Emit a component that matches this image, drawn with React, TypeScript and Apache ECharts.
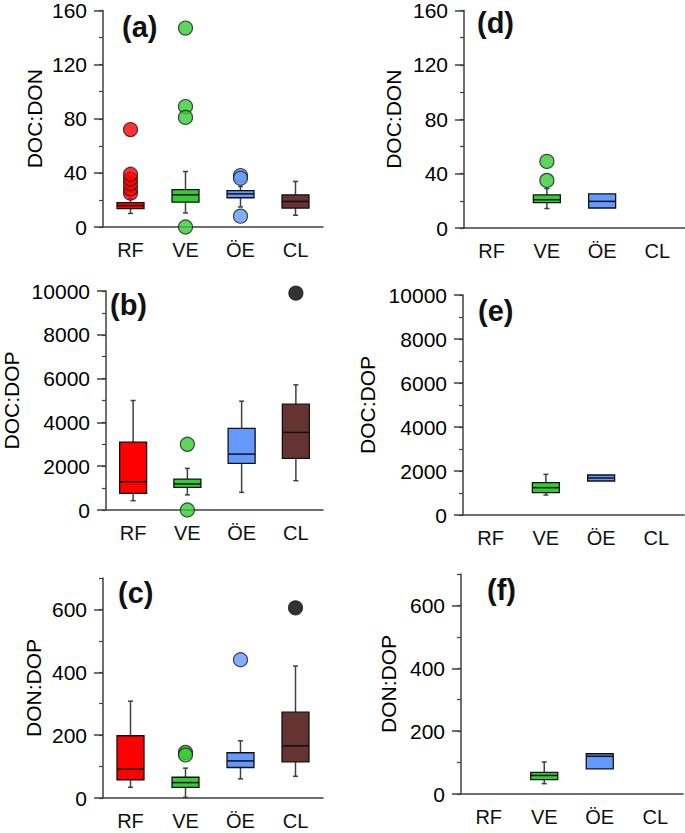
import React, { useEffect, useRef } from "react";
import * as echarts from "echarts";

const categories = ["RF", "VE", "ÖE", "CL"];
const catColors = ["#ff0000", "#33cc33", "#6699ff", "#663333"];

// Box stats: [categoryIndex, min, q1, median, q3, max]
const docDonBoxesAll = [
  [0, 10, 13.6, 15.8, 18, 21],
  [1, 10.4, 18.4, 23.8, 27.6, 41],
  [2, 14.8, 21.6, 24.5, 26.9, 30],
  [3, 8.7, 14, 18.9, 23.8, 33.7],
];
const docDonOutliersAll = [
  [0, 25], [0, 28], [0, 32], [0, 35.5], [0, 39], [0, 72],
  [1, 147], [1, 89], [1, 81], [1, 0],
  [2, 38], [2, 36], [2, 8],
];

const docDopBoxesAll = [
  [0, 425, 760, 1290, 3100, 5000],
  [1, 690, 1035, 1190, 1410, 1900],
  [2, 805, 2130, 2553, 3725, 4970],
  [3, 1337, 2357, 3543, 4833, 5714],
];
const docDopOutliersAll = [
  [1, 3000], [1, 0], [3, 9900],
];

const donDopBoxesAll = [
  [0, 34, 58, 92, 198, 308],
  [1, 2, 34, 49, 66, 95],
  [2, 61, 97, 118, 144, 182],
  [3, 69, 115, 166, 273, 420],
];
const donDopOutliersAll = [
  [1, 145], [1, 137], [2, 440], [3, 605],
];

const docDonBoxesSub = [
  [1, 14.3, 18.6, 20.8, 24.4, 29],
  [2, 14.7, 14.7, 19.6, 25.1, 25.1],
];
const docDonOutliersSub = [[1, 49], [1, 35]];

const docDopBoxesSub = [
  [1, 909, 1015, 1242, 1470, 1848],
  [2, 1545, 1545, 1682, 1818, 1818],
];
const docDopOutliersSub: number[][] = [];

const donDopBoxesSub = [
  [1, 33, 46, 59, 69, 102],
  [2, 80, 80, 120, 128, 128],
];
const donDopOutliersSub: number[][] = [];

const FONT = 'Arial, "Liberation Sans", Helvetica, sans-serif';
const AXIS_COLOR = "#404040";

type Panel = {
  label: string;
  name: string;
  grid: { left: number; top: number; width: number; height: number };
  max: number;
  major: number;
  majorTicks: number[];
  nameGap: number;
  boxes: number[][];
  outliers: number[][];
  labelPos: [number, number];
};

const panels: Panel[] = [
  { label: "(a)", name: "DOC:DON", grid: { left: 103, top: 7, width: 220, height: 220 }, max: 160, major: 40, majorTicks: [0, 40, 80, 120, 160], nameGap: 58, boxes: docDonBoxesAll, outliers: docDonOutliersAll, labelPos: [122, 12] },
  { label: "(b)", name: "DOC:DOP", grid: { left: 103, top: 291, width: 220, height: 219 }, max: 10000, major: 2000, majorTicks: [0, 2000, 4000, 6000, 8000, 10000], nameGap: 84, boxes: docDopBoxesAll, outliers: docDopOutliersAll, labelPos: [110, 290] },
  { label: "(c)", name: "DON:DOP", grid: { left: 103, top: 578, width: 220, height: 220 }, max: 700, major: 200, majorTicks: [0, 200, 400, 600], nameGap: 59, boxes: donDopBoxesAll, outliers: donDopOutliersAll, labelPos: [118, 578] },
  { label: "(d)", name: "DOC:DON", grid: { left: 464, top: 7, width: 221, height: 221 }, max: 160, major: 40, majorTicks: [0, 40, 80, 120, 160], nameGap: 60, boxes: docDonBoxesSub, outliers: docDonOutliersSub, labelPos: [477, 8] },
  { label: "(e)", name: "DOC:DOP", grid: { left: 463, top: 295, width: 221, height: 220 }, max: 10000, major: 2000, majorTicks: [0, 2000, 4000, 6000, 8000, 10000], nameGap: 85, boxes: docDopBoxesSub, outliers: docDopOutliersSub, labelPos: [478, 296] },
  { label: "(f)", name: "DON:DOP", grid: { left: 461, top: 574, width: 222, height: 220 }, max: 700, major: 200, majorTicks: [0, 200, 400, 600], nameGap: 62, boxes: donDopBoxesSub, outliers: donDopOutliersSub, labelPos: [487, 575] },
];

function renderBox(params: any, api: any) {
  const cat = api.value(0);
  const mn = api.value(1);
  const q1 = api.value(2);
  const md = api.value(3);
  const q3 = api.value(4);
  const mx = api.value(5);
  const color = catColors[cat];
  const xc = api.coord([cat, md])[0];
  const y = (v: number) => api.coord([cat, v])[1];
  const hw = 13.5;
  const cap = 2.5;
  const children: any[] = [];
  const lineStyle = { stroke: AXIS_COLOR, lineWidth: 1.5 };
  if (mx > q3) {
    children.push({ type: "line", shape: { x1: xc, y1: y(q3), x2: xc, y2: y(mx) }, style: lineStyle });
    children.push({ type: "line", shape: { x1: xc - cap, y1: y(mx), x2: xc + cap, y2: y(mx) }, style: lineStyle });
  }
  if (mn < q1) {
    children.push({ type: "line", shape: { x1: xc, y1: y(q1), x2: xc, y2: y(mn) }, style: lineStyle });
    children.push({ type: "line", shape: { x1: xc - cap, y1: y(mn), x2: xc + cap, y2: y(mn) }, style: lineStyle });
  }
  children.push({
    type: "rect",
    shape: { x: xc - hw, y: y(q3), width: 2 * hw, height: y(q1) - y(q3) },
    style: { fill: color, stroke: "#111", lineWidth: 1.3 },
  });
  children.push({
    type: "line",
    shape: { x1: xc - hw, y1: y(md), x2: xc + hw, y2: y(md) },
    style: { stroke: "#111", lineWidth: 1.5 },
  });
  return { type: "group", children };
}

export default function App() {
  const ref = useRef<HTMLDivElement>(null);
  useEffect(() => {
    if (!ref.current) return;
    const chart = echarts.init(ref.current, undefined, { renderer: "svg" });
    const grid: any[] = [];
    const xAxis: any[] = [];
    const yAxis: any[] = [];
    const series: any[] = [];
    const graphic: any[] = [];
    panels.forEach((p, i) => {
      grid.push({ ...p.grid, containLabel: false });
      xAxis.push({
        type: "category",
        gridIndex: i,
        data: categories,
        boundaryGap: true,
        axisLine: { lineStyle: { color: AXIS_COLOR, width: 1.5 } },
        axisTick: { alignWithLabel: true, length: 8, lineStyle: { color: AXIS_COLOR, width: 1.5 } },
        axisLabel: { color: "#111", fontSize: 20, fontFamily: FONT, margin: 13 },
        splitLine: { show: false },
      });
      const minor = p.major / 2;
      yAxis.push({
        type: "value",
        gridIndex: i,
        min: 0,
        max: p.max,
        interval: minor,
        name: p.name,
        nameLocation: "middle",
        nameGap: p.nameGap,
        nameTextStyle: { color: "#000", fontSize: 21, fontFamily: FONT },
        axisLine: { show: true, lineStyle: { color: AXIS_COLOR, width: 1.5 } },
        axisTick: { show: true, length: 4, lineStyle: { color: AXIS_COLOR, width: 1.2 } },
        axisLabel: {
          color: "#000",
          fontSize: 21,
          fontFamily: FONT,
          margin: 16,
          formatter: (v: number) => (p.majorTicks.indexOf(v) >= 0 ? String(v) : ""),
        },
        splitLine: { show: false },
      });
      yAxis.push({
        type: "value",
        gridIndex: i,
        min: 0,
        max: p.max,
        interval: p.major,
        position: "left",
        axisLine: { show: false },
        axisTick: { show: true, length: 9, customValues: p.majorTicks, lineStyle: { color: AXIS_COLOR, width: 1.5 } },
        axisLabel: { show: false },
        splitLine: { show: false },
      });
      series.push({
        type: "custom",
        xAxisIndex: i,
        yAxisIndex: 2 * i,
        renderItem: renderBox,
        encode: { x: 0, y: [1, 2, 3, 4, 5] },
        data: p.boxes,
        z: 2,
      });
      series.push({
        type: "scatter",
        xAxisIndex: i,
        yAxisIndex: 2 * i,
        symbol: "circle",
        symbolSize: 14,
        data: p.outliers.map((o) => ({
          value: o,
          itemStyle: {
            color: o[0] === 3 ? "#000000" : catColors[o[0]],
            borderColor: "#1a1a1a",
            borderWidth: 1.2,
          },
        })),
        z: 3,
      });
      graphic.push({
        type: "text",
        left: p.labelPos[0],
        top: p.labelPos[1],
        style: { text: p.label, fontSize: 29, fontWeight: "bold", fontFamily: FONT, fill: "#111" },
        z: 10,
      });
    });
    chart.setOption({
      animation: false,
      backgroundColor: "#ffffff",
      grid,
      xAxis,
      yAxis,
      series,
      graphic,
    });
    return () => chart.dispose();
  }, []);
  return (
    <div
      ref={ref}
      style={{ position: "absolute", left: 0, top: 0, width: 685, height: 833, background: "#fff" }}
    />
  );
}
